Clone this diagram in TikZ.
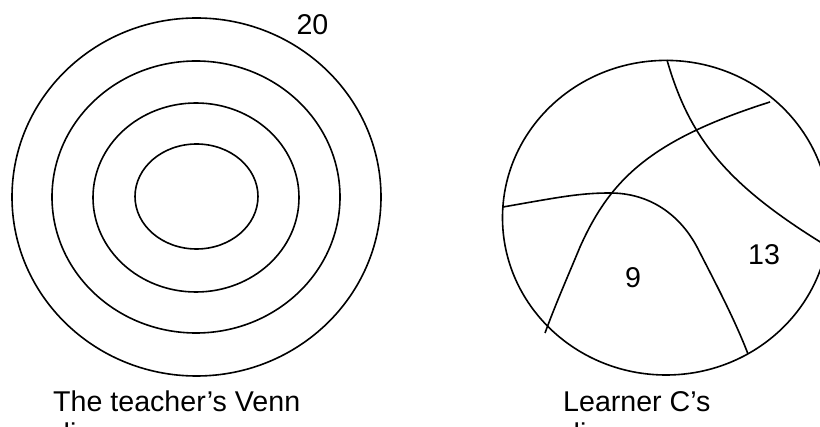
\documentclass[tikz,border=0pt]{standalone}
\usepackage{fontspec}
\setmainfont{Liberation Sans}
\begin{document}
\begin{tikzpicture}[x=1pt,y=-1pt,
  lbl/.style={inner sep=0pt,font=\fontsize{28.6}{34}\selectfont},
  ring/.style={draw=black,line width=1.6pt},
  cut/.style={draw=black,line width=1.6pt}]
\useasboundingbox (0,0) rectangle (820,427);
\clip (0,0) rectangle (820,427);
% teacher's diagram
\draw[ring] (196.5,197) ellipse [x radius=184.5,y radius=179];
\draw[ring] (196,197) ellipse [x radius=144,y radius=136];
\draw[ring] (196,197.5) ellipse [x radius=103,y radius=94.5];
\draw[ring] (196.5,196.5) ellipse [x radius=61.5,y radius=52.5];
\node[lbl,anchor=base] (n20) at (312.5,35) {20};
\node[lbl,anchor=base west] (t1) at (53,412) {The teacher’s Venn};
\node[lbl,anchor=base west] (t2) at (54,443.5) {diagram};
% learner C's diagram
\draw[ring] (666,217.7) ellipse [x radius=163.5,y radius=157.3];
\draw[cut] (667,60) .. controls (690,140) and (728,186) .. (830,248);
\draw[cut] (770,102) .. controls (650,140) and (610,180) .. (580,247)
                     .. controls (568,276) and (556,303) .. (545,333);
\draw[cut] (503,207) .. controls (560,197) and (580,193) .. (610,193)
                     .. controls (650,193) and (680,215) .. (697,247)
                     .. controls (715,282) and (735,320) .. (748,354);
\node[lbl,anchor=base] (n9) at (633,287.7) {9};
\node[lbl,anchor=base] (n13) at (764,265) {13};
\node[lbl,anchor=base west] (l1) at (563,412) {Learner C’s};
\node[lbl,anchor=base west] (l2) at (564,443.5) {diagram};
\end{tikzpicture}
\end{document}
